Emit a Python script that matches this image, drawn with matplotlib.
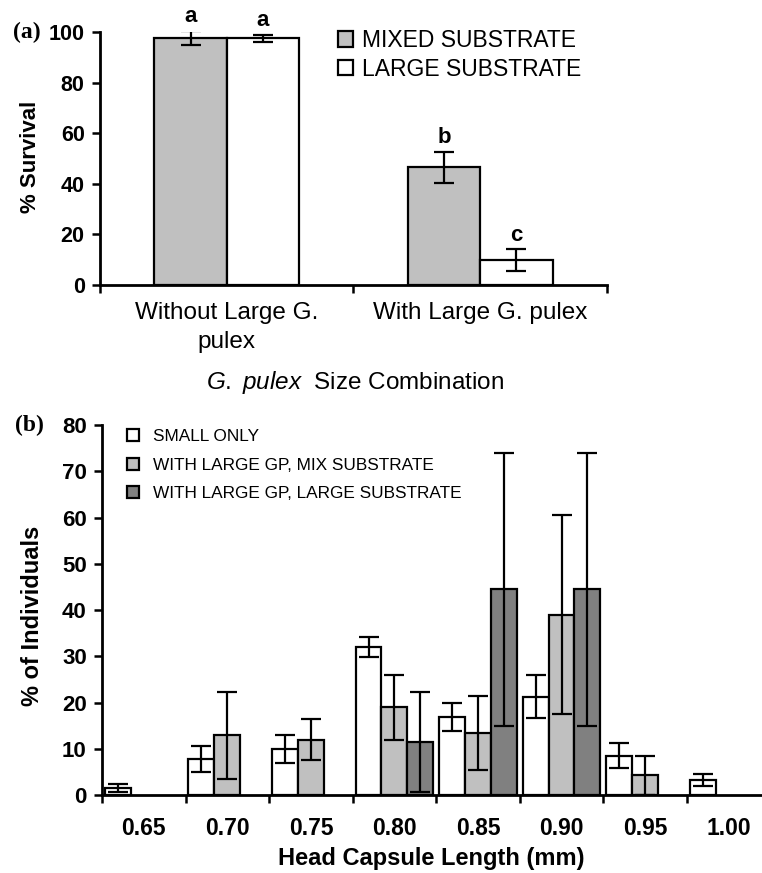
import numpy as np
import matplotlib
matplotlib.use("Agg")
import matplotlib.pyplot as plt

plt.rcParams['font.family'] = ['Liberation Sans', 'DejaVu Sans']
plt.rcParams['mathtext.fontset'] = 'custom'
plt.rcParams['mathtext.it'] = 'Liberation Sans:italic'
plt.rcParams['mathtext.rm'] = 'Liberation Sans'

# panel (a) data
groups_a = ['Without Large G.\npulex', 'With Large G. pulex']
mixed_a = [97.5, 46.5]
mixed_a_err = [2.8, 6.2]
large_a = [97.6, 9.9]
large_a_err = [1.4, 4.2]
letters_mixed = ['a', 'b']
letters_large = ['a', 'c']

# panel (b) data
sizes = ['0.65', '0.70', '0.75', '0.80', '0.85', '0.90', '0.95', '1.00']
small_only = [1.5, 7.8, 9.9, 32.0, 16.8, 21.3, 8.5, 3.3]
small_only_err = [0.9, 2.9, 3.0, 2.2, 3.0, 4.6, 2.7, 1.3]
mix_sub = [np.nan, 12.9, 12.0, 19.0, 13.5, 39.0, 4.3, np.nan]
mix_sub_err = [np.nan, 9.4, 4.4, 7.0, 8.0, 21.5, 4.2, np.nan]
large_sub = [np.nan, np.nan, np.nan, 11.4, 44.5, 44.5, np.nan, np.nan]
large_sub_err = [np.nan, np.nan, np.nan, 10.8, 29.5, 29.5, np.nan, np.nan]

fig = plt.figure(figsize=(7.62, 8.73), dpi=100)

ekw = dict(elinewidth=1.6, capthick=1.6, capsize=7, ecolor='black')

# ---------- (a)
ax1 = fig.add_axes([0.1312, 0.6735, 0.6654, 0.2898])
x = np.arange(len(groups_a))
w = 0.285
ax1.bar(x - w/2, mixed_a, w, yerr=mixed_a_err, color='#c0c0c0', edgecolor='black',
        linewidth=1.6, label='MIXED SUBSTRATE', error_kw=ekw, zorder=2)
ax1.bar(x + w/2, large_a, w, yerr=large_a_err, color='white', edgecolor='black',
        linewidth=1.6, label='LARGE SUBSTRATE', error_kw=ekw, zorder=2)
for i in range(len(x)):
    ax1.text(x[i] - w/2, mixed_a[i] + mixed_a_err[i] + 1.5, letters_mixed[i],
             ha='center', va='bottom', fontsize=16, fontweight='bold', clip_on=False)
    ax1.text(x[i] + w/2, large_a[i] + large_a_err[i] + 1.5, letters_large[i],
             ha='center', va='bottom', fontsize=16, fontweight='bold', clip_on=False)

ax1.set_xlim(-0.5, 1.5)
ax1.set_ylim(0, 100)
ax1.set_yticks([0, 20, 40, 60, 80, 100])
ax1.set_xticks(x)
ax1.set_xticklabels(groups_a, fontsize=17.5, linespacing=1.45)
ax1.set_xticks([-0.5, 0.5, 1.5], minor=True)
ax1.tick_params(axis='x', which='major', length=0, pad=12)
ax1.tick_params(axis='x', which='minor', length=6, width=1.8)
ax1.tick_params(axis='y', length=6, width=1.8, labelsize=15.5, pad=5)
for lab in ax1.get_yticklabels():
    lab.set_fontweight('bold')
ax1.spines[['top', 'right']].set_visible(False)
ax1.spines[['left', 'bottom']].set_linewidth(2)
fig.text(30 / 762, 1 - 157 / 873, '% Survival', rotation=90, ha='center', va='center',
         fontsize=16, fontweight='bold')
ax1.legend(loc='upper left', bbox_to_anchor=(0.469, 1.012), frameon=False, fontsize=16.5,
           handlelength=0.65, handleheight=0.65, handletextpad=0.4, labelspacing=0.25,
           borderaxespad=0, borderpad=0)
fig.text(355 / 762, 1 - 383 / 873, r'$\it{G.\ pulex}$  Size Combination', ha='center',
         va='center', fontsize=17.5)
fig.text(13 / 762, 1 - 32 / 873, '(a)', fontsize=17, fontweight='bold',
         family='Liberation Serif', va='center')

# ---------- (b)
ax2 = fig.add_axes([0.1339, 0.0893, 0.8661, 0.4238])
xb = np.arange(len(sizes))
wb = 0.31
ax2.bar(xb - wb, small_only, wb, yerr=small_only_err, color='white', edgecolor='black',
        linewidth=1.6, label='SMALL ONLY', error_kw=ekw, zorder=2)
ax2.bar(xb, mix_sub, wb, yerr=mix_sub_err, color='#c0c0c0', edgecolor='black',
        linewidth=1.6, label='WITH LARGE GP, MIX SUBSTRATE', error_kw=ekw, zorder=2)
ax2.bar(xb + wb, large_sub, wb, yerr=large_sub_err, color='#808080', edgecolor='black',
        linewidth=1.6, label='WITH LARGE GP, LARGE SUBSTRATE', error_kw=ekw, zorder=2)
ax2.set_xlim(-0.5, 7.4)
ax2.set_ylim(0, 80)
ax2.set_yticks(np.arange(0, 81, 10))
ax2.set_xticks(xb)
ax2.set_xticklabels(sizes)
ax2.set_xticks(np.arange(-0.5, 7.0, 1.0), minor=True)
ax2.tick_params(axis='x', which='major', length=0, pad=16, labelsize=16.5)
ax2.tick_params(axis='x', which='minor', length=6, width=1.8)
ax2.tick_params(axis='y', length=6, width=1.8, labelsize=16, pad=5)
for lab in ax2.get_yticklabels() + ax2.get_xticklabels():
    lab.set_fontweight('bold')
ax2.spines[['top', 'right']].set_visible(False)
ax2.spines[['left', 'bottom']].set_linewidth(2)
fig.text(33 / 762, 1 - 616 / 873, '% of Individuals', rotation=90, ha='center',
         va='center', fontsize=17, fontweight='bold')
fig.text(431 / 762, 1 - 859 / 873, 'Head Capsule Length (mm)', ha='center', va='center',
         fontsize=17, fontweight='bold')
ax2.legend(loc='upper left', bbox_to_anchor=(0.038, 0.99), frameon=False, fontsize=12.4,
           handlelength=0.7, handleheight=0.7, handletextpad=0.8, labelspacing=0.8,
           borderaxespad=0, borderpad=0)
fig.text(15 / 762, 1 - 425 / 873, '(b)', fontsize=17, fontweight='bold',
         family='Liberation Serif', va='center')

fig.savefig('out.png', dpi=100)
